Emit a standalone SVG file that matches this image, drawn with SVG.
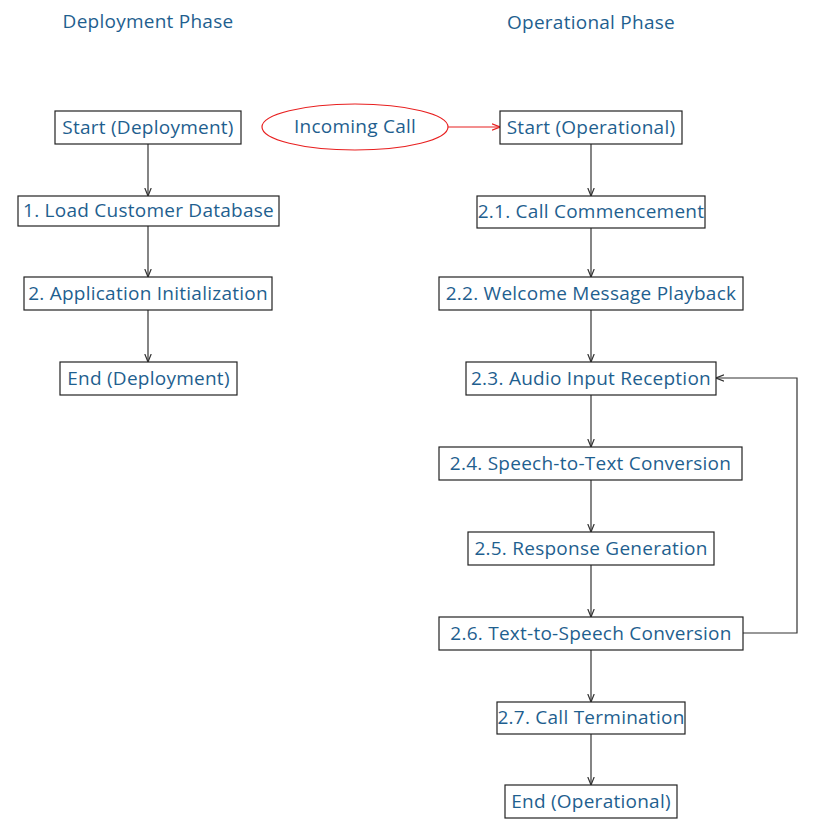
<svg xmlns="http://www.w3.org/2000/svg" width="818" height="830" viewBox="0 0 818 830">
<defs>
<style>
text{font-family:"Open Sans","Noto Sans",sans-serif;font-size:19px;letter-spacing:0.25px;fill:#1f5f8f;text-anchor:middle;dominant-baseline:central}
.box{fill:#fff;stroke:#222;stroke-width:1.2}
.ln{fill:none;stroke:#333;stroke-width:1.2}
.red{fill:none;stroke:#e82020;stroke-width:1.2}
</style>
<marker id="ah" viewBox="0 0 10 10" refX="10" refY="5" markerWidth="8" markerHeight="8" orient="auto" markerUnits="userSpaceOnUse"><path d="M0,1 L10,5 L0,9" fill="none" stroke="#333" stroke-width="1.5"/></marker>
<marker id="ahr" viewBox="0 0 10 10" refX="10" refY="5" markerWidth="8" markerHeight="8" orient="auto" markerUnits="userSpaceOnUse"><path d="M0,1 L10,5 L0,9" fill="none" stroke="#e82020" stroke-width="1.5"/></marker>
</defs>
<rect width="818" height="830" fill="#fff"/>
<text x="148" y="21">Deployment Phase</text>
<text x="591" y="22">Operational Phase</text>
<g id="connectors">
<path class="ln" d="M148,144 V196" marker-end="url(#ah)"/>
<path class="ln" d="M148,226 V277" marker-end="url(#ah)"/>
<path class="ln" d="M148,310 V362" marker-end="url(#ah)"/>
<path class="red" d="M448,127 H500" marker-end="url(#ahr)"/>
<path class="ln" d="M591,144 V196" marker-end="url(#ah)"/>
<path class="ln" d="M591,228 V277" marker-end="url(#ah)"/>
<path class="ln" d="M591,310 V362" marker-end="url(#ah)"/>
<path class="ln" d="M591,395 V447" marker-end="url(#ah)"/>
<path class="ln" d="M591,480 V532" marker-end="url(#ah)"/>
<path class="ln" d="M591,565 V617" marker-end="url(#ah)"/>
<path class="ln" d="M591,650 V702" marker-end="url(#ah)"/>
<path class="ln" d="M591,734 V785" marker-end="url(#ah)"/>
<path class="ln" d="M743,633 H797 V378 H716" marker-end="url(#ah)"/>
</g>
<g id="start_dep"><rect class="box" x="55" y="111" width="186" height="33"/><text x="148" y="126.5">Start (Deployment)</text></g>
<g id="load_db"><rect class="box" x="18" y="196" width="261" height="30"/><text x="148.5" y="210">1. Load Customer Database</text></g>
<g id="app_init"><rect class="box" x="24" y="277" width="248" height="33"/><text x="148" y="292.5">2. Application Initialization</text></g>
<g id="end_dep"><rect class="box" x="60" y="362" width="177" height="33"/><text x="148.5" y="377.5">End (Deployment)</text></g>
<g id="incoming"><ellipse class="red" cx="355" cy="127" rx="93" ry="23"/><text x="355" y="126">Incoming Call</text></g>
<g id="start_op"><rect class="box" x="500" y="111" width="182" height="33"/><text x="591" y="126.5">Start (Operational)</text></g>
<g id="s21"><rect class="box" x="477" y="196" width="228" height="32"/><text x="591" y="211">2.1. Call Commencement</text></g>
<g id="s22"><rect class="box" x="439" y="277" width="304" height="33"/><text x="591" y="292.5">2.2. Welcome Message Playback</text></g>
<g id="s23"><rect class="box" x="466" y="362" width="250" height="33"/><text x="591" y="377.5">2.3. Audio Input Reception</text></g>
<g id="s24"><rect class="box" x="439" y="447" width="303" height="33"/><text x="590.5" y="462.5">2.4. Speech-to-Text Conversion</text></g>
<g id="s25"><rect class="box" x="468" y="532" width="246" height="33"/><text x="591" y="547.5">2.5. Response Generation</text></g>
<g id="s26"><rect class="box" x="439" y="617" width="304" height="33"/><text x="591" y="632.5">2.6. Text-to-Speech Conversion</text></g>
<g id="s27"><rect class="box" x="497" y="702" width="188" height="32"/><text x="591" y="717">2.7. Call Termination</text></g>
<g id="end_op"><rect class="box" x="505" y="785" width="172" height="33"/><text x="591" y="800.5">End (Operational)</text></g>
</svg>
